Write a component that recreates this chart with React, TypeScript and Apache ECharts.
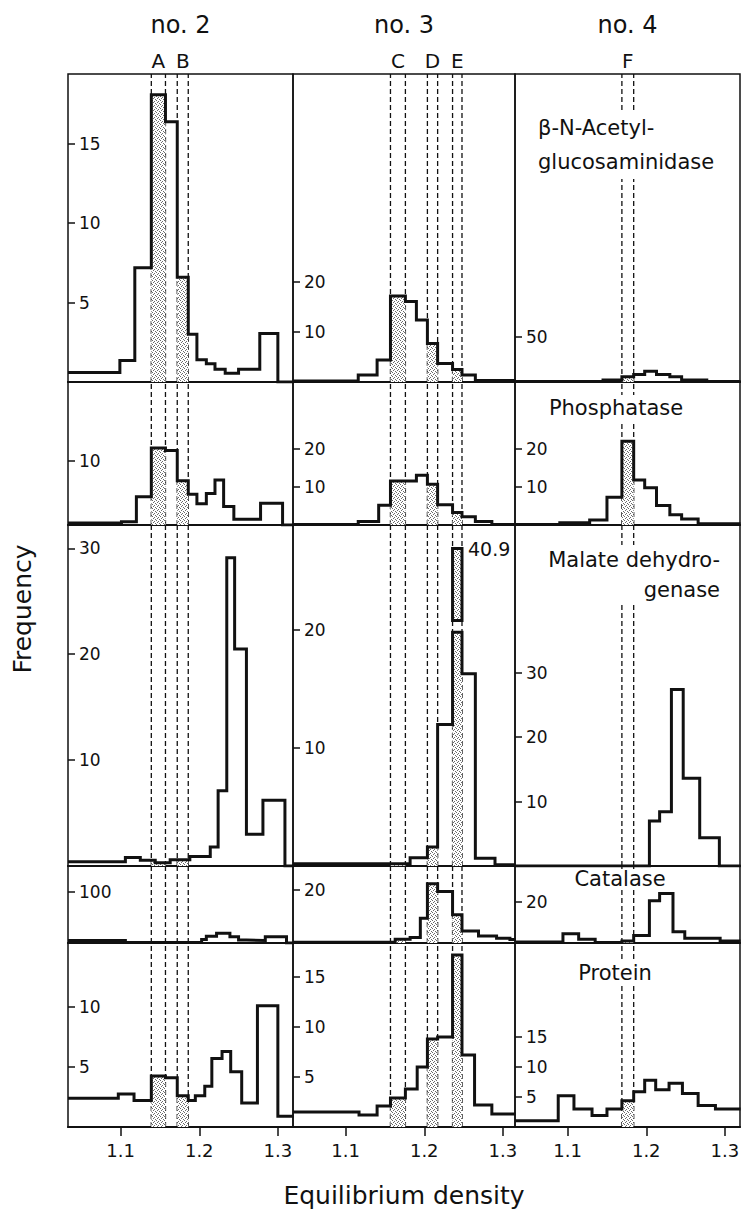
import React, { useEffect, useRef } from 'react';
import * as echarts from 'echarts';

// ---------- texts ----------
const preparationTitles = ['no. 2', 'no. 3', 'no. 4'];
const enzymeNames = ['β-N-Acetyl-\nglucosaminidase', 'Phosphatase', 'Malate dehydro-\ngenase', 'Catalase', 'Protein'];
const yAxisTitle = 'Frequency';
const xAxisTitle = 'Equilibrium density';
const densityTicks = [1.1, 1.2, 1.3];

// ---------- fraction boundaries (dashed lines) ----------
const no2Fractions = ['A', 'B'];
const no2Bounds = [[1.139, 1.157], [1.172, 1.186]];
const no3Fractions = ['C', 'D', 'E'];
const no3Bounds = [[1.157, 1.176], [1.204, 1.217], [1.236, 1.248]];
const no4Fractions = ['F'];
const no4Bounds = [[1.169, 1.184]];

// ---------- histograms: bin edges (density) and frequencies ----------
// no. 2
const no2AcetylEdges = [1.033, 1.099, 1.118, 1.139, 1.157, 1.172, 1.186, 1.197, 1.209, 1.220, 1.233, 1.250, 1.277, 1.300, 1.320];
const no2AcetylFreq = [0.6, 1.35, 7.2, 18.1, 16.4, 6.6, 3.0, 1.4, 1.15, 0.8, 0.55, 0.8, 3.05, 0];
const no2AcetylTicks = [5, 10, 15];
const no2PhosEdges = [1.033, 1.101, 1.120, 1.139, 1.157, 1.172, 1.186, 1.197, 1.209, 1.220, 1.231, 1.244, 1.278, 1.306, 1.320];
const no2PhosFreq = [0.3, 0.5, 4.4, 12.0, 11.6, 6.9, 4.8, 3.3, 4.9, 7.0, 2.9, 0.9, 3.4, 0];
const no2PhosTicks = [10];
const no2MalateEdges = [1.033, 1.106, 1.125, 1.144, 1.163, 1.188, 1.214, 1.224, 1.235, 1.245, 1.260, 1.281, 1.309, 1.320];
const no2MalateFreq = [0.4, 0.8, 0.55, 0.3, 0.6, 0.9, 1.8, 7.1, 29.1, 20.5, 3.0, 6.2, 0];
const no2MalateTicks = [10, 20, 30];
const no2CatalaseEdges = [1.033, 1.106, 1.203, 1.209, 1.222, 1.239, 1.250, 1.260, 1.284, 1.311, 1.320];
const no2CatalaseFreq = [5, 1, 7, 13, 19, 12, 6, 5, 12, 0];
const no2CatalaseTicks = [100];
const no2ProteinEdges = [1.033, 1.097, 1.117, 1.139, 1.157, 1.172, 1.186, 1.195, 1.207, 1.216, 1.229, 1.240, 1.254, 1.274, 1.300, 1.320];
const no2ProteinFreq = [2.4, 2.75, 2.2, 4.25, 4.1, 2.6, 2.2, 2.6, 3.4, 5.7, 6.3, 4.6, 2.0, 10.1, 0.9];
const no2ProteinTicks = [5, 10];
// no. 3
const no3AcetylEdges = [1.033, 1.116, 1.140, 1.157, 1.176, 1.190, 1.204, 1.217, 1.236, 1.248, 1.265, 1.316];
const no3AcetylFreq = [0.2, 1.4, 4.4, 17.2, 16.1, 12.4, 7.7, 3.7, 2.5, 1.4, 0.3];
const no3AcetylTicks = [10, 20];
const no3PhosEdges = [1.033, 1.116, 1.142, 1.157, 1.176, 1.190, 1.204, 1.217, 1.236, 1.248, 1.265, 1.286, 1.316];
const no3PhosFreq = [0.1, 0.9, 5.2, 11.6, 11.6, 13.1, 10.7, 5.3, 3.3, 2.2, 0.9, 0.1];
const no3PhosTicks = [10, 20];
const no3MalateEdges = [1.033, 1.182, 1.204, 1.217, 1.236, 1.248, 1.265, 1.290, 1.316];
const no3MalateFreq = [0.2, 0.7, 1.6, 12.0, 40.9, 16.3, 0.65, 0.1];
const no3MalateTicks = [10, 20];
const no3CatalaseEdges = [1.033, 1.163, 1.182, 1.195, 1.204, 1.217, 1.236, 1.248, 1.269, 1.292, 1.309, 1.316];
const no3CatalaseFreq = [0.25, 1.4, 2.1, 9.3, 22.3, 19.4, 10.6, 4.5, 2.6, 1.8, 1.3];
const no3CatalaseTicks = [20];
const no3ProteinEdges = [1.033, 1.117, 1.140, 1.157, 1.176, 1.191, 1.204, 1.217, 1.236, 1.248, 1.264, 1.286, 1.316];
const no3ProteinFreq = [1.5, 1.2, 2.1, 2.9, 3.8, 6.0, 8.8, 9.0, 17.2, 7.2, 2.2, 1.3];
const no3ProteinTicks = [5, 10, 15];
// no. 4
const no4AcetylEdges = [1.033, 1.145, 1.169, 1.184, 1.198, 1.213, 1.230, 1.245, 1.277, 1.320];
const no4AcetylFreq = [0.5, 2.3, 5.7, 8.3, 12, 8.3, 5.7, 2.3, 0.5];
const no4AcetylTicks = [50];
const no4PhosEdges = [1.033, 1.090, 1.128, 1.150, 1.169, 1.184, 1.198, 1.213, 1.230, 1.245, 1.266, 1.320];
const no4PhosFreq = [0.1, 0.6, 1.3, 7.3, 22, 11.8, 9.8, 5.1, 2.7, 1.6, 0.3];
const no4PhosTicks = [10, 20];
const no4MalateEdges = [1.033, 1.204, 1.217, 1.232, 1.247, 1.268, 1.293, 1.320];
const no4MalateFreq = [0, 7.0, 8.4, 27.4, 13.6, 4.4, 0];
const no4MalateTicks = [10, 20, 30];
const no4CatalaseEdges = [1.033, 1.094, 1.114, 1.135, 1.169, 1.184, 1.204, 1.217, 1.234, 1.249, 1.294, 1.320];
const no4CatalaseFreq = [0.5, 4.5, 1.8, 0.2, 1.0, 3.6, 20.5, 24, 5.5, 2.3, 1.0];
const no4CatalaseTicks = [20];
const no4ProteinEdges = [1.033, 1.088, 1.108, 1.131, 1.150, 1.169, 1.184, 1.198, 1.212, 1.229, 1.246, 1.266, 1.288, 1.320];
const no4ProteinFreq = [1.05, 5.2, 3.0, 1.9, 3.0, 4.4, 5.9, 7.8, 6.2, 7.3, 5.6, 3.6, 3.0];
const no4ProteinTicks = [5, 10, 15];

// broken bar (no. 3, malate dehydrogenase, fraction E)
const brokenBarValue = 40.9;
const brokenBarLowerCut = 19.8;
const brokenBarUpperPiece = [20.8, 26.9];

// ---------- layout ----------
const FONT = '"DejaVu Sans", "Liberation Sans", sans-serif';
const INK = '#111';
const colLeft = [68, 293, 515];
const colWidth = [225, 222, 225];
const rowTop = [74, 382, 525, 866, 943];
const rowHeight = [308, 143, 341, 77, 184];
const X_MIN = 1.033;
const PX_PER_DENSITY = 786;
const yMaxByCol = [
  [19.4, 22.3, 32.2, 150, 15.33],
  [61.6, 37.6, 28.9, 29, 18.4],
  [340, 37.6, 52.9, 37.3, 30.7],
];
const enzymeLabelPos = [
  { x: 535, y: 145, align: 'left', lineHeight: 34 },
  { x: 616, y: 408, align: 'center', lineHeight: 26 },
  { x: 723, y: 575, align: 'right', lineHeight: 30 },
  { x: 620, y: 879, align: 'center', lineHeight: 20 },
  { x: 615, y: 973, align: 'center', lineHeight: 26 },
];

const panels = [
  [
    { edges: no2AcetylEdges, freq: no2AcetylFreq, ticks: no2AcetylTicks },
    { edges: no2PhosEdges, freq: no2PhosFreq, ticks: no2PhosTicks },
    { edges: no2MalateEdges, freq: no2MalateFreq, ticks: no2MalateTicks },
    { edges: no2CatalaseEdges, freq: no2CatalaseFreq, ticks: no2CatalaseTicks },
    { edges: no2ProteinEdges, freq: no2ProteinFreq, ticks: no2ProteinTicks },
  ],
  [
    { edges: no3AcetylEdges, freq: no3AcetylFreq, ticks: no3AcetylTicks },
    { edges: no3PhosEdges, freq: no3PhosFreq, ticks: no3PhosTicks },
    { edges: no3MalateEdges, freq: no3MalateFreq, ticks: no3MalateTicks },
    { edges: no3CatalaseEdges, freq: no3CatalaseFreq, ticks: no3CatalaseTicks },
    { edges: no3ProteinEdges, freq: no3ProteinFreq, ticks: no3ProteinTicks },
  ],
  [
    { edges: no4AcetylEdges, freq: no4AcetylFreq, ticks: no4AcetylTicks },
    { edges: no4PhosEdges, freq: no4PhosFreq, ticks: no4PhosTicks },
    { edges: no4MalateEdges, freq: no4MalateFreq, ticks: no4MalateTicks },
    { edges: no4CatalaseEdges, freq: no4CatalaseFreq, ticks: no4CatalaseTicks },
    { edges: no4ProteinEdges, freq: no4ProteinFreq, ticks: no4ProteinTicks },
  ],
];
const fractionNames = [no2Fractions, no3Fractions, no4Fractions];
const fractionBounds = [no2Bounds, no3Bounds, no4Bounds];

function stepPoints(edges: number[], vals: number[], cap: (v: number) => number) {
  const pts: number[][] = [];
  for (let k = 0; k < vals.length; k++) {
    const v = cap(vals[k]);
    pts.push([edges[k], v], [edges[k + 1], v]);
  }
  return pts;
}

function clippedStep(edges: number[], vals: number[], a: number, b: number, cap: (v: number) => number) {
  const pts: number[][] = [];
  for (let k = 0; k < vals.length; k++) {
    const lo = Math.max(edges[k], a);
    const hi = Math.min(edges[k + 1], b);
    if (hi > lo) {
      const v = cap(vals[k]);
      pts.push([lo, v], [hi, v]);
    }
  }
  return pts;
}

export default function App() {
  const ref = useRef<HTMLDivElement>(null);

  useEffect(() => {
    const el = ref.current!;
    const chart = echarts.init(el, undefined, { renderer: 'svg' });

    const tile = document.createElement('canvas');
    tile.width = 4;
    tile.height = 4;
    const g = tile.getContext('2d')!;
    g.fillStyle = '#ffffff';
    g.fillRect(0, 0, 4, 4);
    g.fillStyle = '#6a6a6a';
    g.fillRect(0, 0, 1, 1);
    g.fillRect(2, 1, 1, 1);
    g.fillRect(1, 2, 1, 1);
    g.fillRect(3, 3, 1, 1);
    const stipple: any = { image: tile, repeat: 'repeat', imageWidth: 4, imageHeight: 4 };

    const grids: any[] = [];
    const xAxes: any[] = [];
    const yAxes: any[] = [];
    const series: any[] = [];

    for (let c = 0; c < 3; c++) {
      for (let r = 0; r < 5; r++) {
        const i = c * 5 + r;
        const p = panels[c][r];
        const yMax = yMaxByCol[c][r];
        const isBottom = r === 4;
        const cap = (v: number) => (v > yMax ? brokenBarLowerCut : v);

        grids.push({
          left: colLeft[c],
          top: rowTop[r],
          width: colWidth[c],
          height: rowHeight[r],
          show: true,
          borderColor: INK,
          borderWidth: 1.5,
          backgroundColor: 'transparent',
        });
        xAxes.push({
          type: 'value',
          gridIndex: i,
          min: X_MIN,
          max: X_MIN + colWidth[c] / PX_PER_DENSITY,
          axisLine: { show: true, onZero: false, lineStyle: { color: INK, width: 2.2 } },
          splitLine: { show: false },
          axisTick: isBottom
            ? { show: true, customValues: densityTicks, length: 9, lineStyle: { color: INK, width: 1.5 } }
            : { show: false },
          axisLabel: isBottom
            ? {
                show: true,
                customValues: densityTicks,
                formatter: (v: number) => v.toFixed(1),
                fontSize: 18,
                fontFamily: FONT,
                color: INK,
                margin: 14,
              }
            : { show: false },
        });
        yAxes.push({
          type: 'value',
          gridIndex: i,
          min: 0,
          max: yMax,
          axisLine: { show: false },
          splitLine: { show: false },
          axisTick: {
            show: true,
            inside: true,
            length: 7,
            customValues: p.ticks,
            lineStyle: { color: INK, width: 1.5 },
          },
          axisLabel: {
            show: true,
            inside: true,
            customValues: p.ticks,
            formatter: (v: number) => String(v),
            fontSize: 17,
            fontFamily: FONT,
            color: INK,
            margin: 11,
          },
        });

        // dashed fraction boundaries
        fractionBounds[c].forEach((b, k) => {
          b.forEach((x, j) => {
            const s: any = {
              type: 'line',
              xAxisIndex: i,
              yAxisIndex: i,
              data: [[x, 0], [x, yMax]],
              symbol: 'none',
              silent: true,
              clip: false,
              z: 1,
              lineStyle: { color: INK, width: 1.3, type: [5, 3] },
            };
            if (r === 0 && j === 0) {
              s.markArea = {
                silent: true,
                itemStyle: { color: 'rgba(0,0,0,0)', borderWidth: 0 },
                label: {
                  show: true,
                  position: 'top',
                  distance: 3,
                  color: INK,
                  fontSize: 20,
                  fontFamily: FONT,
                },
                data: [[{ name: fractionNames[c][k], xAxis: b[0] }, { xAxis: b[1] }]],
              };
            }
            series.push(s);
          });
          // stippled fraction under the histogram
          series.push({
            type: 'line',
            xAxisIndex: i,
            yAxisIndex: i,
            data: clippedStep(p.edges, p.freq, b[0], b[1], cap),
            symbol: 'none',
            silent: true,
            z: 2,
            lineStyle: { width: 0 },
            areaStyle: { color: stipple, opacity: 1 },
          });
        });

        // histogram outline
        series.push({
          type: 'line',
          xAxisIndex: i,
          yAxisIndex: i,
          data: stepPoints(p.edges, p.freq, cap),
          symbol: 'none',
          silent: true,
          z: 3,
          lineStyle: { color: INK, width: 3, join: 'miter' },
        });

        // broken bar continuation
        if (p.freq.some((v) => v > yMax)) {
          const k = p.freq.findIndex((v) => v > yMax);
          series.push({
            type: 'custom',
            xAxisIndex: i,
            yAxisIndex: i,
            z: 4,
            silent: true,
            data: [[p.edges[k], p.edges[k + 1], brokenBarUpperPiece[0], brokenBarUpperPiece[1], brokenBarValue]],
            renderItem: (params: any, api: any) => {
              const p0 = api.coord([api.value(0), api.value(3)]);
              const p1 = api.coord([api.value(1), api.value(2)]);
              return {
                type: 'group',
                children: [
                  {
                    type: 'rect',
                    shape: { x: p0[0], y: p0[1], width: p1[0] - p0[0], height: p1[1] - p0[1] },
                    style: { fill: stipple, stroke: INK, lineWidth: 3 },
                  },
                  {
                    type: 'text',
                    x: p1[0] + 6,
                    y: p0[1],
                    style: {
                      text: String(api.value(4)),
                      fill: INK,
                      font: `19px ${FONT}`,
                      align: 'left',
                      verticalAlign: 'middle',
                    },
                  },
                ],
              };
            },
          });
        }
      }
    }

    const graphic: any[] = [];
    preparationTitles.forEach((t, c) => {
      graphic.push({
        type: 'text',
        x: colLeft[c] + colWidth[c] / 2,
        y: 25,
        z: 100,
        style: { text: t, font: `24px ${FONT}`, fill: INK, align: 'center', verticalAlign: 'middle' },
      });
    });
    enzymeNames.forEach((t, r) => {
      const pos = enzymeLabelPos[r];
      graphic.push({
        type: 'text',
        x: pos.x,
        y: pos.y,
        z: 100,
        style: {
          text: t,
          font: `21px ${FONT}`,
          fill: INK,
          align: pos.align,
          verticalAlign: 'middle',
          lineHeight: pos.lineHeight,
          backgroundColor: '#ffffff',
          padding: [0, 3],
        },
      });
    });
    graphic.push({
      type: 'text',
      x: 22,
      y: 609,
      rotation: Math.PI / 2,
      z: 100,
      style: { text: yAxisTitle, font: `25px ${FONT}`, fill: INK, align: 'center', verticalAlign: 'middle' },
    });
    graphic.push({
      type: 'text',
      x: 404,
      y: 1195,
      z: 100,
      style: { text: xAxisTitle, font: `25px ${FONT}`, fill: INK, align: 'center', verticalAlign: 'middle' },
    });

    chart.setOption({
      animation: false,
      backgroundColor: '#ffffff',
      grid: grids,
      xAxis: xAxes,
      yAxis: yAxes,
      series,
      graphic,
    });

    return () => chart.dispose();
  }, []);

  return (
    <div
      ref={ref}
      style={{ position: 'absolute', left: 0, top: 0, width: 751, height: 1210, background: '#fff' }}
    />
  );
}
